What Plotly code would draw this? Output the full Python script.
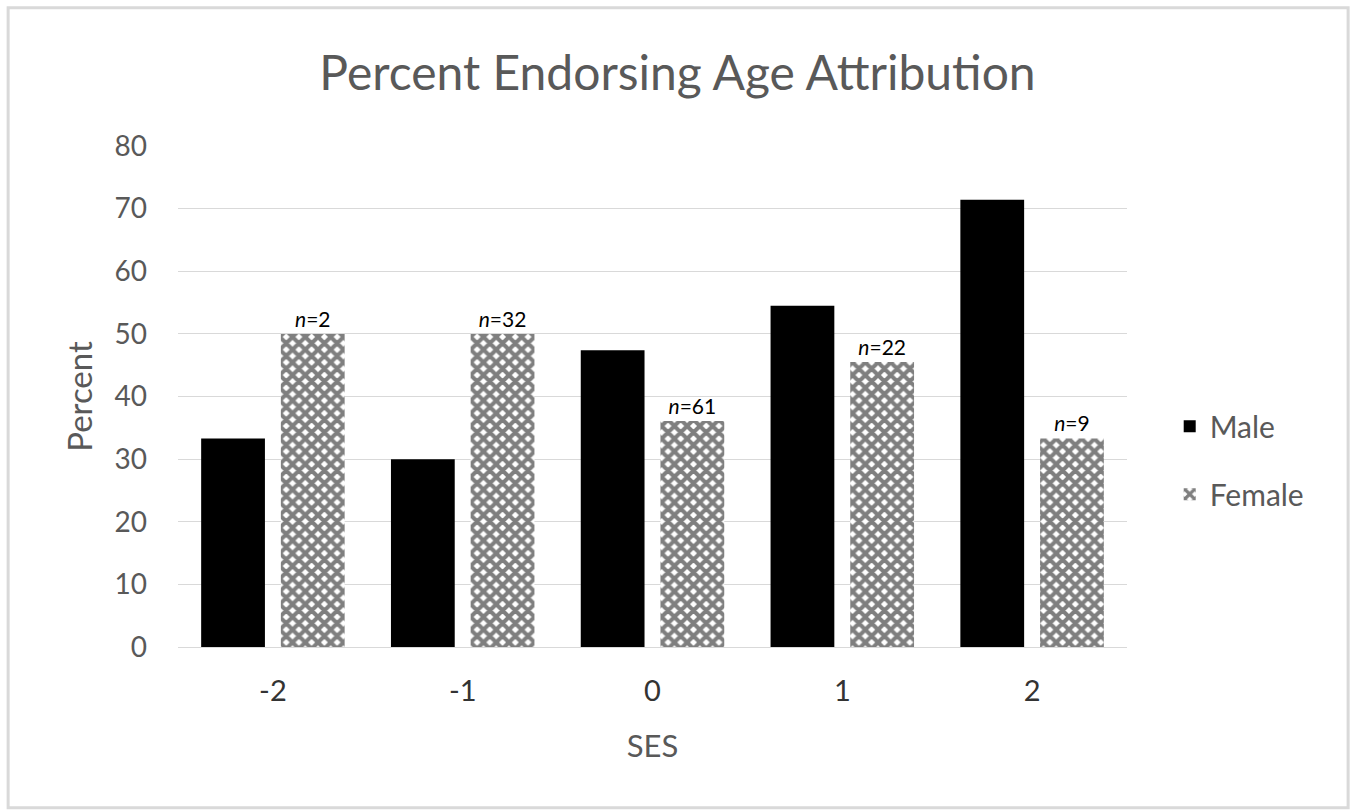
import plotly.graph_objects as go

# Socioeconomic status groups and percentage endorsing age attribution
ses_levels = ["-2", "-1", "0", "1", "2"]
male_pct = [33.3, 30.0, 47.4, 54.5, 71.4]
female_pct = [50.0, 50.0, 36.1, 45.5, 33.3]
female_n = [2, 32, 61, 22, 9]

font_family = "Lato, 'Open Sans', sans-serif"
text_gray = "#595959"
grid_gray = "#d9d9d9"

female_labels = [f"<i>n</i>={n}" for n in female_n]

fig = go.Figure()
fig.add_trace(go.Bar(
    x=ses_levels, y=male_pct, name="Male",
    marker=dict(color="black", line=dict(width=0)),
    legendgroup="m",
))
fig.add_trace(go.Bar(
    x=ses_levels, y=female_pct, name="Female",
    marker=dict(
        color="white",
        line=dict(width=0),
        pattern=dict(shape="x", fgcolor="black", bgcolor="white",
                     size=9, solidity=0.7, fillmode="overlay"),
    ),
    text=female_labels, textposition="outside",
    textfont=dict(family=font_family, size=21, color="black"),
    cliponaxis=False,
    legendgroup="f",
))

fig.update_layout(
    width=1355, height=810,
    paper_bgcolor="white", plot_bgcolor="white",
    margin=dict(l=178, r=228, t=146, b=163),
    barmode="group", bargap=0.16, bargroupgap=0.2,
    font=dict(family=font_family, color=text_gray),
    title=dict(text="Percent Endorsing Age Attribution",
               x=0.5, xref="container", xanchor="center",
               y=1 - 73 / 810, yref="container", yanchor="middle",
               font=dict(size=48, color=text_gray)),
    legend=dict(x=1.045, y=0.373, xanchor="left", yanchor="middle",
                font=dict(size=30, color=text_gray),
                tracegroupgap=26, traceorder="grouped",
                itemwidth=30, bgcolor="rgba(0,0,0,0)"),
    xaxis=dict(type="category", showgrid=False, showline=False, ticks="",
               tickfont=dict(size=29, color="#333333"),
               ticklabelstandoff=24,
               title=dict(text="SES", font=dict(size=31, color=text_gray),
                          standoff=29)),
    yaxis=dict(range=[0, 80], dtick=10, showgrid=True, gridcolor=grid_gray,
               gridwidth=1, zeroline=True, zerolinecolor=grid_gray,
               zerolinewidth=1, showline=False, ticks="",
               tickfont=dict(size=28, color=text_gray),
               ticklabelstandoff=30,
               title=dict(text="Percent", font=dict(size=33, color=text_gray),
                          standoff=11)),
    shapes=[dict(type="rect", xref="paper", yref="paper",
                 x0=-0.179, x1=1.233, y0=-0.321, y1=1.276,
                 line=dict(color="#d9d9d9", width=3),
                 fillcolor="rgba(0,0,0,0)", layer="below")],
)

fig.write_html("out.html")
